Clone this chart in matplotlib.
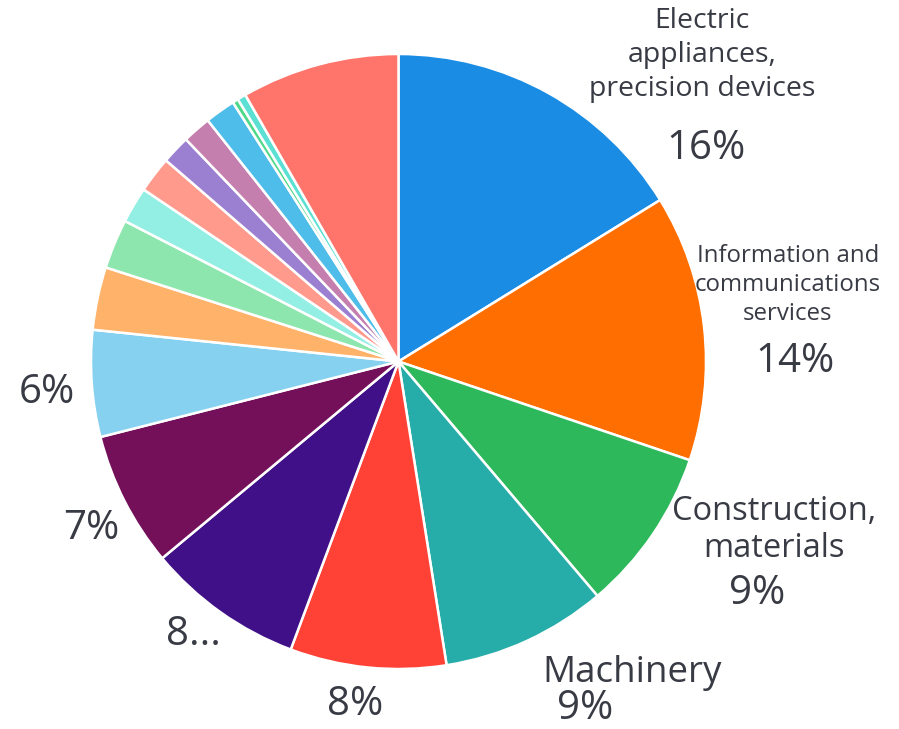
import matplotlib.pyplot as plt

W, H = 899, 729

sectors = [
    "Electric appliances, precision devices",
    "Information and communications services",
    "Construction, materials",
    "Machinery",
    "Retail trade",
    "Banks",
    "Transportation equipment",
    "Chemicals",
    "Services",
    "Foods",
    "Pharmaceutical",
    "Wholesale trade",
    "Real estate",
    "Land transportation",
    "Other financing",
    "Marine transportation",
    "Mining",
    "Others",
]
shares = [16.2, 14.0, 8.6, 8.7, 8.2, 8.25, 7.1, 5.6, 3.3, 2.6, 1.9, 1.9,
          1.5, 1.5, 1.6, 0.3, 0.45, 8.3]
colors = ["#1B8CE3", "#FF6E00", "#2EB85C", "#27ADA9", "#FF4136", "#3F1087",
          "#740F5A", "#87D1F0", "#FFB36A", "#8EE6AF", "#93EFE4", "#FF9A8D",
          "#9B80D2", "#C57FAE", "#4EBDE9", "#4ED88A", "#5DE0D4", "#FF756B"]

# name labels shown next to the biggest slices
name_labels = {
    0: "Electric\nappliances,\nprecision devices",
    1: "Information and\ncommunications\nservices",
    2: "Construction,\nmaterials",
    3: "Machinery",
}
# label layout in pixels from the top-left corner: (x, y, fontsize, spacing)
name_pos = {
    0: (702, 55, 20.5, 1.3),
    1: (788, 285, 17.3, 1.28),
    2: (774, 530, 23.5, 1.15),
    3: (632, 673, 26.5, 1.0),
}
pct_pos = {
    0: (706, 149),
    1: (795, 362),
    2: (757, 594),
    3: (585, 709),
    4: (355, 705),
    5: (193, 635),
    6: (91, 529),
    7: (47, 393),
}

plt.rcParams['font.family'] = ['Open Sans', 'DejaVu Sans']
TEXT = "#383A44"

fig = plt.figure(figsize=(W / 100, H / 100), dpi=100)
ax = fig.add_axes([0, 0, 1, 1])

ax.pie(shares, colors=colors, startangle=90, counterclock=False,
       center=(398.5, H - 361.5), radius=307.5,
       wedgeprops=dict(edgecolor="white", linewidth=1.8))

for i, text in name_labels.items():
    x, y, fs, ls = name_pos[i]
    ax.text(x, H - y, text, ha="center", va="center", fontsize=fs,
            color=TEXT, linespacing=ls)

for i, (x, y) in pct_pos.items():
    label = f"{round(shares[i])}%"
    if i == 5:
        label = label[:-1] + "..."  # too little room, label gets cut
    ax.text(x, H - y, label, ha="center", va="center", fontsize=29,
            color=TEXT)

ax.set_xlim(0, W)
ax.set_ylim(0, H)
ax.set_aspect("equal")
ax.axis("off")

fig.savefig("out.png", dpi=100)
